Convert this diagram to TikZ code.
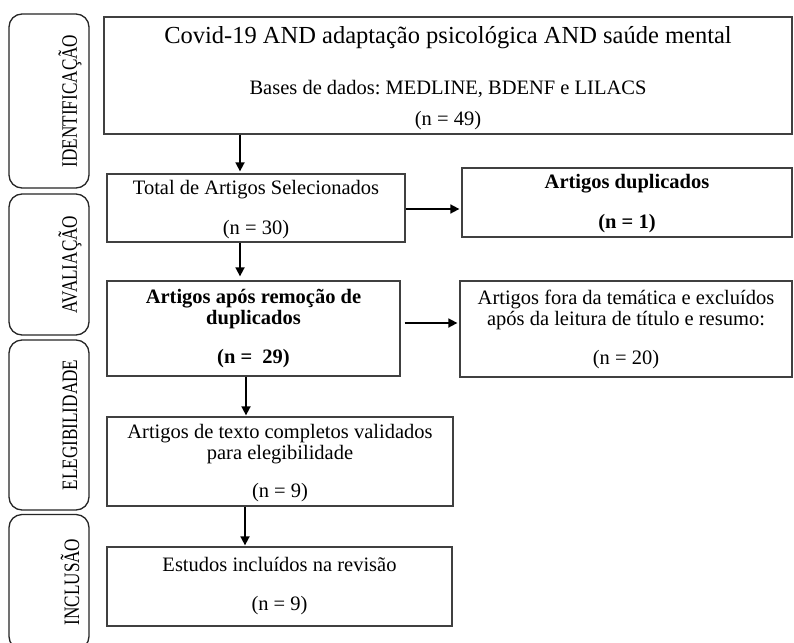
\documentclass[tikz,border=0pt]{standalone}
\usepackage{fontspec}
\setmainfont{Liberation Serif}
\usepackage{graphicx}
\usetikzlibrary{arrows.meta, positioning}

\begin{document}
\frenchspacing
\begin{tikzpicture}[x=1pt, y=-1pt,
      block/.style={rectangle, draw=black!75, line width=1.3pt, inner sep=0pt,
                    align=center, font=\fontsize{20.5}{21}\selectfont},
      txt/.style={inner sep=0pt, align=center, font=\fontsize{20.5}{21}\selectfont},
      phase/.style={rectangle, draw=black!85, line width=1.3pt, rounded corners=13pt,
                    minimum width=80pt, inner sep=0pt},
      lbl/.style={rotate=90, inner sep=0pt, font=\fontsize{22}{24}\selectfont},
      arr/.style={-{Triangle[length=9pt, width=9pt]}, line width=1.7pt}
    ]
    \clip (0,0) rectangle (794,642);
    \fill[white] (0,0) rectangle (794,642);

    % fases
    \node[phase, minimum height=174pt] (ident) at (49,101) {};
    \node[phase, minimum height=141pt] (aval) at (49,264.5) {};
    \node[phase, minimum height=170pt] (eleg) at (49,425) {};
    \node[phase, minimum height=135pt] (incl) at (49,582) {};
    \node[lbl] at ([xshift=21pt]ident.center) {\scalebox{0.78}[1]{IDENTIFICAÇÃO}};
    \node[lbl] at ([xshift=21pt]aval.center) {\scalebox{0.78}[1]{AVALIAÇÃO}};
    \node[lbl] at ([xshift=21pt]eleg.center) {\scalebox{0.78}[1]{ELEGIBILIDADE}};
    \node[lbl] at ([xshift=21pt]incl.center) {\scalebox{0.78}[1]{INCLUSÃO}};

    % caixas
    \node[block, minimum width=688pt, minimum height=117pt] (busca) at (448,75.5)
      {{\fontsize{24.5}{26}\selectfont\rule{0pt}{22pt}Covid-19 AND adaptação psicológica AND saúde mental}\\[30pt]
       Bases de dados: MEDLINE, BDENF e LILACS\\[10pt]
       (n = 49)};
    \node[block, minimum width=298pt, minimum height=68pt,
          label={[txt, yshift=-2pt]center:Total de Artigos Selecionados\\[19pt] (n = 30)}] (selec) at (256,208) {};
    \node[block, minimum width=330pt, minimum height=69pt,
          label={[txt, yshift=-1.5pt, font=\fontsize{20.5}{21}\selectfont\bfseries]center:Artigos duplicados\\[19pt] (n = 1)}] (dupl) at (627,202.5) {};
    \node[block, minimum width=293pt, minimum height=95pt, font=\fontsize{20.5}{21}\selectfont\bfseries] (remo) at (253.5,328.5)
      {Artigos após remoção de\\ duplicados\\[18pt] (n = \ 29)};
    \node[block, minimum width=332pt, minimum height=96pt] (fora) at (626,329)
      {Artigos fora da temática e excluídos\\ após da leitura de título e resumo:\\[18pt] (n = 20)};
    \node[block, minimum width=346pt, minimum height=89pt,
          label={[txt, yshift=-1.5pt]center:Artigos de texto completos validados\\ para elegibilidade\\[17pt] (n = 9)}] (valid) at (280,461.5) {};
    \node[block, minimum width=345pt, minimum height=79pt] (estud) at (279.5,586.5)
      {Estudos incluídos na revisão\\[18pt] (n = 9)};

    % setas
    \draw[arr] ([xshift=-16pt]selec.north |- busca.south) -- ([xshift=-16pt, yshift=2pt]selec.north);
    \draw[arr] ([xshift=-13.5pt]remo.north |- selec.south) -- ([xshift=-13.5pt, yshift=4pt]remo.north);
    \draw[arr] ([xshift=-34pt]valid.north |- remo.south) -- ([xshift=-34pt, yshift=1pt]valid.north);
    \draw[arr] ([xshift=-34.5pt]estud.north |- valid.south) -- ([xshift=-34.5pt, yshift=1pt]estud.north);
    \draw[arr] ([yshift=-1pt]selec.east) -- ([yshift=-1pt, xshift=-2pt]selec.east -| dupl.west);
    \draw[arr] ([yshift=5.5pt, xshift=4pt]remo.east) -- ([yshift=5.5pt, xshift=-2pt]remo.east -| fora.west);
  \end{tikzpicture}
\end{document}
